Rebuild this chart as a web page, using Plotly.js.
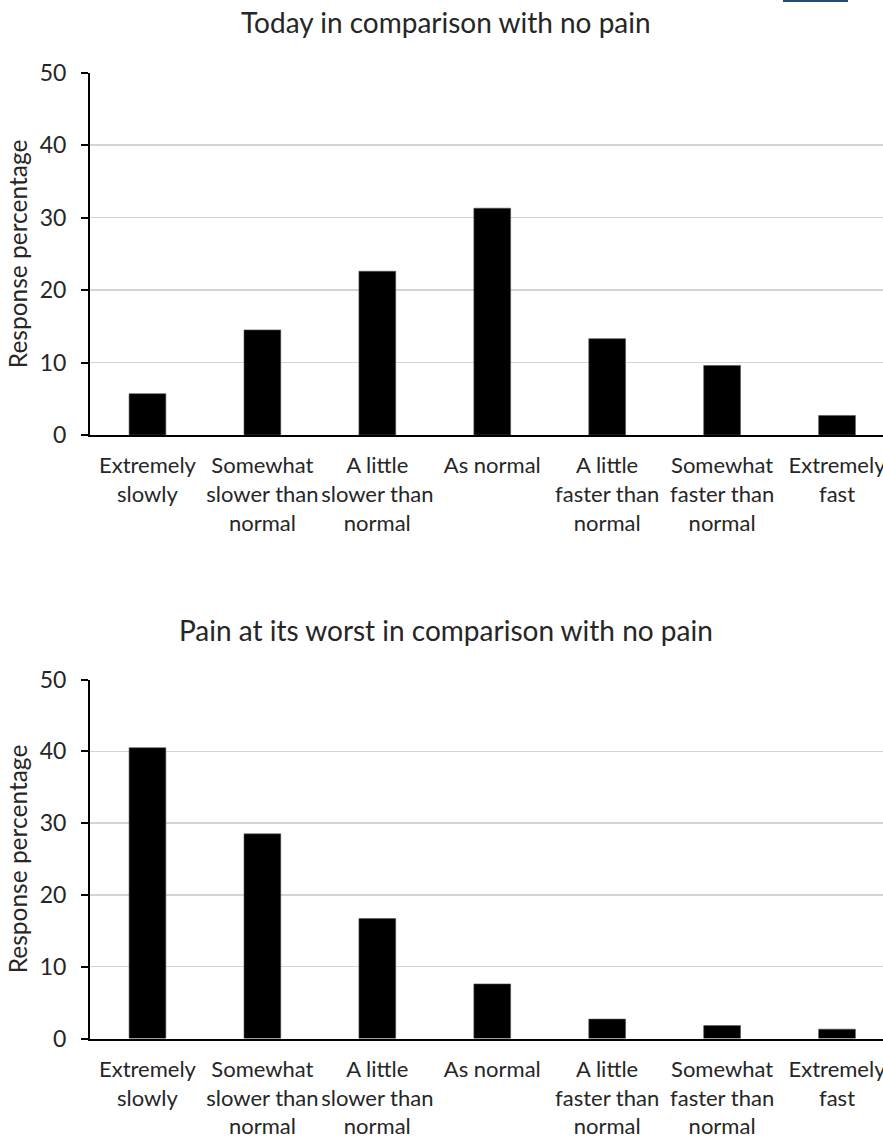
<!DOCTYPE html>
<html>
<head>
<meta charset="utf-8">
<script src="https://cdn.plot.ly/plotly-3.0.1.min.js"></script>
<style>html,body{margin:0;padding:0;background:#fff;}#chart{width:883px;height:1139px;}</style>
</head>
<body>
<div id="chart"></div>
<script>
const categories = [
  "Extremely<br>slowly",
  "Somewhat<br>slower than<br>normal",
  "A little<br>slower than<br>normal",
  "As normal",
  "A little<br>faster than<br>normal",
  "Somewhat<br>faster than<br>normal",
  "Extremely<br>fast"
];
const todayValues = [5.7, 14.5, 22.6, 31.3, 13.3, 9.6, 2.7];
const worstValues = [40.5, 28.5, 16.7, 7.6, 2.7, 1.8, 1.3];
const chartTitles = ["Today in comparison with no pain", "Pain at its worst in comparison with no pain"];
const yTitle = "Response percentage";
const yTicks = [0, 10, 20, 30, 40, 50];

const FONT = "Lato, 'Open Sans', sans-serif";
const TXT = "#262626";
const catIdx = categories.map((_, i) => i);

const traces = [
  {type: "bar", x: catIdx, y: todayValues, xaxis: "x", yaxis: "y",
   marker: {color: "#000000", line: {width: 0.6, color: "#555"}}, width: 0.32, hoverinfo: "skip", showlegend: false},
  {type: "bar", x: catIdx, y: worstValues, xaxis: "x2", yaxis: "y2",
   marker: {color: "#000000", line: {width: 0.6, color: "#555"}}, width: 0.32, hoverinfo: "skip", showlegend: false}
];

// plot area continues slightly past the right page edge in the reference
const xRange = [-0.5, 6.4];

function xAxis(anchor) {
  return {
    anchor: anchor, domain: [0, 1], range: xRange,
    tickmode: "array", tickvals: catIdx, ticktext: categories, tickangle: 0,
    ticklabeloverflow: "allow",
    showline: true, linecolor: "#000", linewidth: 2,
    ticks: "", showgrid: false, zeroline: false,
    tickfont: {family: FONT, size: 22, color: TXT},
    ticklabelstandoff: 10, automargin: false, fixedrange: true
  };
}
function yAxis(anchor, domain) {
  return {
    anchor: anchor, domain: domain, range: [0, 50],
    tickmode: "array", tickvals: yTicks,
    showline: true, linecolor: "#000", linewidth: 2,
    ticks: "outside", ticklen: 7, tickwidth: 2, tickcolor: "#000",
    showgrid: true, gridcolor: "#d4d4d4", gridwidth: 1.5, zeroline: false,
    tickfont: {family: FONT, size: 23, color: TXT},
    ticklabelstandoff: 10,
    title: {text: yTitle, font: {family: FONT, size: 24.5, color: TXT}, standoff: 5},
    automargin: false, fixedrange: true
  };
}

const H = 1139;
const layout = {
  width: 883, height: H,
  margin: {l: 90, r: 0, t: 0, b: 0},
  paper_bgcolor: "#fff", plot_bgcolor: "#fff",
  bargap: 0.68,
  xaxis: xAxis("y"),
  yaxis: yAxis("x", [(H - 435) / H, (H - 72.7) / H]),
  xaxis2: xAxis("y2"),
  yaxis2: yAxis("x2", [(H - 1038.5) / H, (H - 679.5) / H]),
  annotations: [
    {text: chartTitles[0], xref: "paper", yref: "paper", x: (446 - 90) / 793, y: (H - 22) / H,
     xanchor: "center", yanchor: "middle", showarrow: false, font: {family: FONT, size: 28, color: TXT}},
    {text: chartTitles[1], xref: "paper", yref: "paper", x: (446 - 90) / 793, y: (H - 630) / H,
     xanchor: "center", yanchor: "middle", showarrow: false, font: {family: FONT, size: 28, color: TXT}}
  ],
  shapes: [
    {type: "line", xref: "paper", yref: "paper", x0: (783 - 90) / 793, x1: (848 - 90) / 793,
     y0: (H - 1) / H, y1: (H - 1) / H, line: {color: "#1f4e79", width: 2}}
  ]
};

Plotly.newPlot("chart", traces, layout, {displayModeBar: false, staticPlot: true});
</script>
</body>
</html>
